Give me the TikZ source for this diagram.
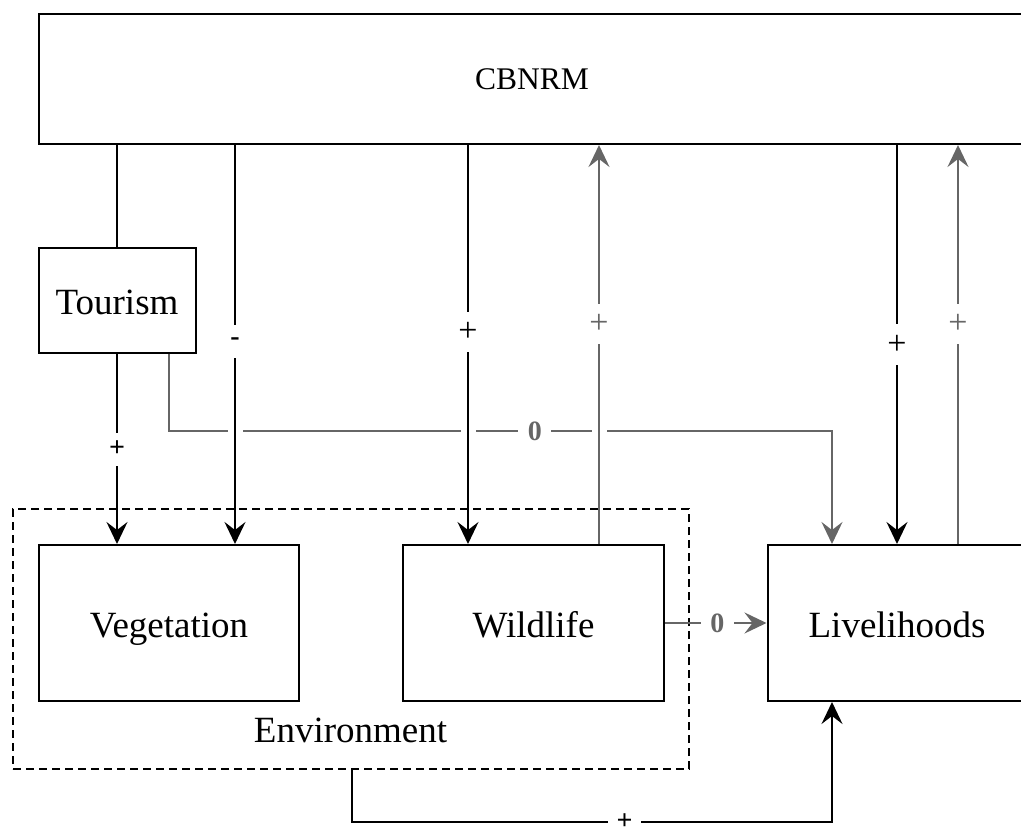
\documentclass[tikz,border=0pt]{standalone}
\usepackage{fontspec}
\setmainfont{Liberation Serif}
\usetikzlibrary{arrows.meta,calc}
\definecolor{fbgray}{HTML}{666666}
\tikzset{
  block/.style={draw=black, line width=2pt, fill=white, inner sep=0pt,
    font=\fontsize{37}{44}\selectfont, text height=28pt, text depth=0pt},
  group/.style={draw=black, line width=2pt, dash pattern=on 8pt off 5pt, inner sep=0pt},
  edge/.style={draw=black, line width=2pt},
  gedge/.style={draw=fbgray, line width=2pt},
  lblbold/.style={fill=white, inner sep=0pt, minimum size=33pt,
    font=\fontsize{28}{32}\selectfont\bfseries},
  lblthin/.style={fill=white, inner sep=0pt, minimum size=40pt,
    font=\fontsize{34}{40}\selectfont},
  gapmask/.style={draw=white, line width=7pt},
}
\begin{document}
\begin{tikzpicture}[x=1pt, y=-1pt, >={Stealth[length=22pt,width=21pt,inset=8pt]}]
\useasboundingbox (0,0) rectangle (1021,829);
\clip (0,0) rectangle (1021,829);

% environment group
\node[group, minimum width=676pt, minimum height=260pt] (env) at (351,639) {};
\node[anchor=base, font=\fontsize{37}{44}\selectfont] (envlabel) at (350.5,742) {Environment};

% boxes
\node[block, minimum width=986pt, minimum height=130pt,
      font=\fontsize{31.5}{38}\selectfont, text height=21pt] (cbnrm) at (532,79) {CBNRM};
\node[block, minimum width=157pt, minimum height=105pt] (tourism) at (117,300.5) {Tourism};
\node[block, minimum width=260pt, minimum height=156pt] (veg) at (169,623) {Vegetation};
\node[block, minimum width=261pt, minimum height=156pt] (wild) at (533.5,623) {Wildlife};
\node[block, minimum width=259pt, minimum height=156pt] (liv) at (897,623) {Livelihoods};

% columns and levels of the connectors
\coordinate (xa) at (117,0);
\coordinate (xb) at (235,0);
\coordinate (xc) at (468,0);
\coordinate (xd) at (599,0);
\coordinate (xe) at (897,0);
\coordinate (xf) at (958,0);
\coordinate (xg) at (169,0);
\coordinate (xh) at (832,0);
\coordinate (xi) at (352,0);
\coordinate (yt) at (0,431);
\coordinate (yb) at (0,822);

% tourism -> livelihoods (drawn first, gaps where it is crossed)
\draw[gedge,->] (xg |- tourism.south) -- (xg |- yt)
  -- node[lblbold, text=fbgray, pos=0.552] {0} (xh |- yt) -- (xh |- liv.north);
\foreach \c in {xb,xc,xd}
  \draw[gapmask] ($(\c |- yt)+(-7.5,0)$) -- ($(\c |- yt)+(7.5,0)$);

% CBNRM links
\draw[edge] (xa |- cbnrm.south) -- (tourism.north);
\draw[edge,->] (tourism.south) -- node[lblbold] {+} (xa |- veg.north);
\draw[edge,->] (xb |- cbnrm.south) -- node[lblbold, pos=0.4925] {-} (xb |- veg.north);
\draw[edge,->] (xc |- cbnrm.south) -- node[lblthin, pos=0.469] {+} (xc |- wild.north);
\draw[gedge,->] (xd |- wild.north) -- node[lblthin, text=fbgray, pos=0.551] {+} (xd |- cbnrm.south);
\draw[edge,->] (xe |- cbnrm.south) -- node[lblthin, pos=0.5] {+} (xe |- liv.north);
\draw[gedge,->] (xf |- liv.north) -- node[lblthin, text=fbgray, pos=0.552] {+} (xf |- cbnrm.south);

% wildlife -> livelihoods
\draw[gedge,->] (wild.east) -- node[lblbold, text=fbgray, pos=0.515] {0} (liv.west);

% environment -> livelihoods
\draw[edge,->] (xi |- env.south) -- (xi |- yb)
  -- node[lblbold, pos=0.568] {+} (xh |- yb) -- (xh |- liv.south);
\end{tikzpicture}
\end{document}
